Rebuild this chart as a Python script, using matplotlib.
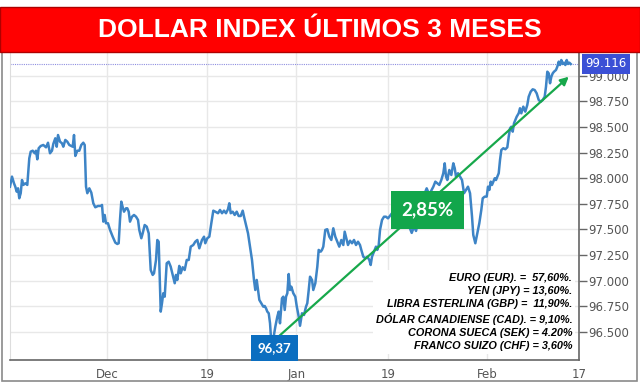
import numpy as np
import matplotlib.pyplot as plt
from matplotlib.patches import Rectangle

# dollar index, last 3 months (x = position on the session axis, 0..100)
x = [0.0, 0.35, 0.70, 0.93, 1.18, 1.41, 1.63, 1.88, 2.11, 2.34, 2.69, 3.04, 3.39, 3.64, 3.99,
     4.34, 4.57, 4.80, 5.04, 5.40, 5.85, 6.33, 6.68, 7.03, 7.38, 7.61, 7.96, 8.21, 8.44, 8.79,
     9.14, 9.37, 9.72, 10.07, 10.42, 10.77, 11.02, 11.25, 11.48, 11.83, 12.18, 12.53, 12.88, 13.13,
     13.36, 13.59, 13.94, 14.29, 14.64, 14.99, 15.47, 15.94, 16.17, 16.40, 16.64, 16.87, 17.22,
     17.58, 18.05, 18.51, 18.86, 19.10, 19.33, 19.56, 19.81, 20.04, 20.39, 20.62, 20.86, 21.09,
     21.44, 21.79, 22.15, 22.50, 22.72, 23.08, 23.32, 23.67, 24.03, 24.38, 24.73, 25.08, 25.31,
     25.66, 25.89, 26.13, 26.49, 26.71, 26.94, 27.19, 27.54, 27.89, 28.24, 28.59, 28.95, 29.17,
     29.40, 29.75, 30.00, 30.35, 30.70, 31.06, 31.41, 31.76, 32.21, 32.56, 32.92, 33.27, 33.74,
     34.10, 34.32, 34.68, 35.03, 35.38, 35.73, 36.08, 36.56, 36.91, 37.26, 37.61, 37.96, 38.31,
     38.54, 38.79, 39.14, 39.49, 39.84, 40.19, 40.55, 40.90, 41.13, 41.48, 41.83, 42.18, 42.53,
     42.88, 43.11, 43.36, 43.59, 43.82, 44.17, 44.52, 44.76, 44.99, 45.22, 45.47, 45.70, 45.92,
     46.27, 46.63, 46.98, 47.22, 47.45, 47.80, 48.03, 48.28, 48.51, 48.74, 48.98, 49.21, 49.44,
     49.79, 50.14, 50.39, 50.74, 50.97, 51.32, 51.67, 52.02, 52.25, 52.50, 52.73, 53.08, 53.30,
     53.66, 54.01, 54.25, 54.61, 54.83, 55.06, 55.41, 55.76, 56.12, 56.47, 56.82, 57.17, 57.52,
     57.87, 58.23, 58.58, 58.82, 59.18, 59.40, 59.76, 60.11, 60.46, 60.81, 61.16, 61.51, 61.74,
     62.09, 62.44, 62.80, 63.15, 63.39, 63.62, 63.97, 64.32, 64.55, 64.80, 65.03, 65.38, 65.73,
     66.08, 66.43, 66.66, 66.91, 67.14, 67.49, 67.84, 68.19, 68.54, 68.77, 69.12, 69.47, 69.72,
     70.12, 70.60, 71.00, 71.36, 71.71, 72.06, 72.41, 72.88, 73.23, 73.58, 73.94, 74.40, 74.75,
     75.10, 75.45, 75.80, 76.15, 76.40, 76.63, 76.86, 77.21, 77.56, 77.91, 78.16, 78.38, 78.74,
     79.09, 79.44, 79.79, 80.14, 80.49, 80.85, 81.20, 81.42, 81.78, 82.13, 82.48, 82.83, 83.08,
     83.43, 83.78, 84.01, 84.24, 84.48, 84.71, 84.94, 85.19, 85.41, 85.64, 85.89, 86.12, 86.35,
     86.70, 87.05, 87.40, 87.65, 87.88, 88.10, 88.35, 88.58, 88.81, 89.05, 89.40, 89.63, 89.86,
     90.21, 90.56, 90.91, 91.16, 91.51, 91.86, 92.21, 92.56, 92.92, 93.27, 93.62, 93.97, 94.20,
     94.43, 94.68, 94.91, 95.14, 95.38, 95.61, 95.96, 96.19, 96.43, 96.66, 96.89, 97.14, 97.37,
     97.60, 97.84, 98.07, 98.30, 98.54]
dxy = [97.917, 98.015, 97.950, 97.917, 97.868, 97.901, 97.804, 97.853, 97.982, 97.934, 97.950,
       97.934, 98.194, 98.259, 98.268, 98.243, 98.268, 98.184, 98.292, 98.314, 98.324, 98.301,
       98.346, 98.243, 98.268, 98.334, 98.389, 98.307, 98.421, 98.356, 98.340, 98.307, 98.373,
       98.356, 98.324, 98.314, 98.307, 98.421, 98.217, 98.268, 98.268, 98.324, 98.346, 98.324,
       97.917, 97.853, 97.901, 97.859, 97.755, 97.716, 97.729, 97.729, 97.739, 97.576, 97.641,
       97.560, 97.560, 97.495, 97.429, 97.371, 97.358, 97.365, 97.592, 97.771, 97.716, 97.673,
       97.706, 97.706, 97.673, 97.576, 97.624, 97.641, 97.624, 97.592, 97.495, 97.414, 97.462,
       97.543, 97.527, 97.462, 97.104, 97.056, 97.072, 97.202, 97.397, 97.380, 96.698, 96.780,
       96.877, 96.844, 97.170, 97.185, 97.137, 97.056, 96.975, 97.056, 97.007, 97.144, 97.072,
       97.131, 97.104, 97.202, 97.202, 97.332, 97.348, 97.380, 97.397, 97.316, 97.397, 97.429,
       97.365, 97.414, 97.429, 97.560, 97.683, 97.673, 97.658, 97.690, 97.658, 97.683, 97.658,
       97.697, 97.755, 97.658, 97.673, 97.641, 97.673, 97.631, 97.631, 97.683, 97.624, 97.543,
       97.462, 97.332, 97.202, 97.007, 96.909, 97.007, 96.909, 96.812, 96.780, 96.746, 96.753,
       96.731, 96.698, 96.682, 96.584, 96.400, 96.430, 96.551, 96.649, 96.698, 96.584, 96.828,
       96.844, 96.714, 96.844, 96.877, 97.065, 96.909, 96.942, 96.877, 96.844, 96.751, 96.649,
       96.560, 96.682, 96.665, 96.746, 96.780, 96.909, 97.039, 97.007, 96.909, 96.975, 97.137,
       97.300, 97.283, 97.300, 97.332, 97.495, 97.502, 97.429, 97.397, 97.511, 97.429, 97.380,
       97.332, 97.397, 97.348, 97.478, 97.397, 97.348, 97.390, 97.365, 97.397, 97.348, 97.380,
       97.348, 97.300, 97.234, 97.218, 97.234, 97.202, 97.153, 97.234, 97.283, 97.332, 97.300,
       97.348, 97.495, 97.592, 97.624, 97.624, 97.608, 97.624, 97.641, 97.658, 97.576, 97.527,
       97.543, 97.527, 97.576, 97.576, 97.527, 97.576, 97.534, 97.466, 97.527, 97.485, 97.573,
       97.690, 97.787, 97.853, 97.901, 97.853, 97.868, 97.917, 97.966, 97.950, 97.934, 97.982,
       98.048, 98.145, 98.015, 97.982, 98.080, 98.031, 98.145, 98.097, 98.015, 98.048, 98.015,
       97.982, 97.853, 97.885, 97.917, 97.853, 97.624, 97.446, 97.365, 97.462, 97.560, 97.690,
       97.804, 97.820, 97.820, 97.917, 97.885, 97.966, 97.934, 97.966, 97.999, 97.982, 98.015,
       98.048, 98.178, 98.275, 98.292, 98.282, 98.301, 98.405, 98.487, 98.502, 98.454, 98.536,
       98.568, 98.600, 98.633, 98.682, 98.633, 98.698, 98.649, 98.714, 98.795, 98.844, 98.867,
       98.860, 98.828, 98.763, 98.746, 98.763, 98.795, 98.893, 99.039, 99.023, 98.926, 98.990,
       99.023, 99.039, 99.056, 99.088, 99.137, 99.104, 99.153, 99.114, 99.127, 99.104, 99.153,
       99.114, 99.127, 99.114]

last_value = 99.116
low_label = "96,37"
trend_start = (47.3, 96.46)
trend_end = (98.2, 98.99)
trend_pct = "2,85%"

xtick_pos = [17.05, 34.6, 50.3, 66.4, 83.8, 100.0]
xtick_labels = ["Dec", "19", "Jan", "19", "Feb", "17"]
ytick_vals = np.arange(96.5, 99.01, 0.25)

basket = ["EURO (EUR). =  57,60%.",
          "YEN (JPY) = 13,60%.",
          "LIBRA ESTERLINA (GBP) =  11,90%.",
          "DÓLAR CANADIENSE (CAD). = 9,10%.",
          "CORONA SUECA (SEK) = 4.20%",
          "FRANCO SUIZO (CHF) = 3,60%"]

narrow = ['Liberation Sans Narrow', 'Liberation Sans']

fig = plt.figure(figsize=(6.4, 3.82), dpi=100)
ax = fig.add_axes([10/640, 22/382, 569/640, 308/382])

ax.plot(x, dxy, color='#3d84c6', lw=1.8, zorder=3, solid_joinstyle='round')
ax.axhline(last_value, color='#8f8fe0', lw=0.8, ls=(0, (1, 1)), zorder=2)

ax.annotate('', xy=trend_end, xytext=trend_start,
            arrowprops=dict(arrowstyle='-|>', color='#17a84b', lw=1.6,
                            mutation_scale=12, shrinkA=0, shrinkB=0), zorder=4)

ax.set_xlim(0, 100)
ax.set_ylim(96.226, 99.231)
ax.set_xticks(xtick_pos)
ax.set_xticklabels(xtick_labels)
ax.set_yticks(ytick_vals)
ax.set_yticklabels(["%.3f" % v for v in ytick_vals])
ax.yaxis.tick_right()
ax.tick_params(axis='y', length=6, width=1, color='#666666', labelcolor='#555555',
               labelsize=8.5, pad=1)
ax.tick_params(axis='x', length=0, labelcolor='#555555', labelsize=8.5, pad=6)
ax.grid(True, color='#e8e8e8', lw=1, zorder=0)
ax.set_axisbelow(True)

ax.spines['top'].set_visible(False)
ax.spines['left'].set_color('#dddddd')
ax.spines['right'].set_color('#666666')
ax.spines['bottom'].set_color('#666666')
ax.spines['right'].set_linewidth(1.2)
ax.spines['bottom'].set_linewidth(1.2)

# last value flag on the right axis
ax.text(1.047, last_value, "%.3f" % last_value, transform=ax.get_yaxis_transform(),
        ha='center', va='center', color='white', fontsize=8.5, zorder=6, clip_on=False,
        bbox=dict(boxstyle='square,pad=0.28', fc='#3b50d6', ec='none'))

# low of the period
ax.text(46.5, 96.343, low_label,
        ha='center', va='center', color='white', fontsize=9.5, fontweight='bold',
        family=['Lato', 'DejaVu Sans'], zorder=6,
        bbox=dict(boxstyle='square,pad=0.5', fc='#0b6ec0', ec='none'))

# change over the period
ax.text(73.3, 97.69, trend_pct, ha='center', va='center', color='white', fontsize=13.5,
        fontweight='bold', family=['Lato', 'DejaVu Sans'], zorder=6,
        bbox=dict(boxstyle='square,pad=0.55', fc='#12a64b', ec='none'))

# currency basket weights
ax.text(0.988, 0.156, "\n".join(basket), transform=ax.transAxes, ha='right', va='center',
        multialignment='right', fontsize=7.8, fontweight='bold', style='italic',
        family=narrow, linespacing=1.38, color='black', zorder=7,
        bbox=dict(boxstyle='square,pad=0.25', fc='white', ec='none'))

# outer frame and title banner
fig.patches.append(Rectangle((1.5/640, 1.5/382), 635/640, 370/382, transform=fig.transFigure,
                             fill=False, ec='#8a8a8a', lw=1.2, zorder=0))
fig.patches.append(Rectangle((0, (382-52)/382), 1, 45/382, transform=fig.transFigure,
                             fc='#ff0000', ec='#b00000', lw=1, zorder=10))
fig.text(0.5, (382-30)/382, "DOLLAR INDEX ÚLTIMOS 3 MESES", ha='center', va='center',
         color='white', fontsize=19, fontweight='bold', family=narrow, zorder=11)

fig.savefig('out.png', dpi=100)
